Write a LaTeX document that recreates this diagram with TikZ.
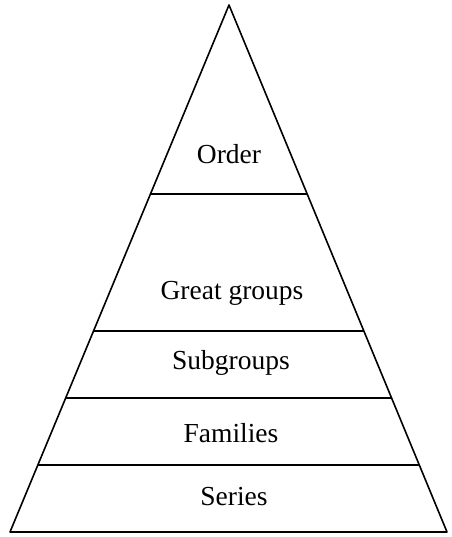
\documentclass[tikz,border=0pt]{standalone}
\usepackage{fontspec}
\usepackage{tikz}
\usetikzlibrary{calc}
\setmainfont{Liberation Serif}
\tikzset{
    tier/.style={line width=1.6pt},
    label/.style={font=\fontsize{27.5}{32}\selectfont}
}

\begin{document}
\begin{tikzpicture}[x=1pt,y=-1pt]
        \useasboundingbox (0,0) rectangle (451,537);

        \coordinate (apex) at (229,5);
        \coordinate (bl) at (10,532);
        \coordinate (br) at (447,532);

        \draw[tier,line join=round] (apex) -- (bl) -- (br) -- cycle;

        % tier boundaries
        \draw[tier] ($(apex)!0.3586!(bl)$) -- ($(apex)!0.3586!(br)$);
        \draw[tier] ($(apex)!0.6186!(bl)$) -- ($(apex)!0.6186!(br)$);
        \draw[tier] ($(apex)!0.7457!(bl)$) -- ($(apex)!0.7457!(br)$);
        \draw[tier] ($(apex)!0.8729!(bl)$) -- ($(apex)!0.8729!(br)$);

        \node[label] (order) at (229,154) {Order};
        \node[label] (great) at (232,293) {Great groups};
        \node[label] (sub) at (231,363) {Subgroups};
        \node[label] (fam) at (231,433) {Families};
        \node[label] (series) at (234,497) {Series};
    \end{tikzpicture}
\end{document}
